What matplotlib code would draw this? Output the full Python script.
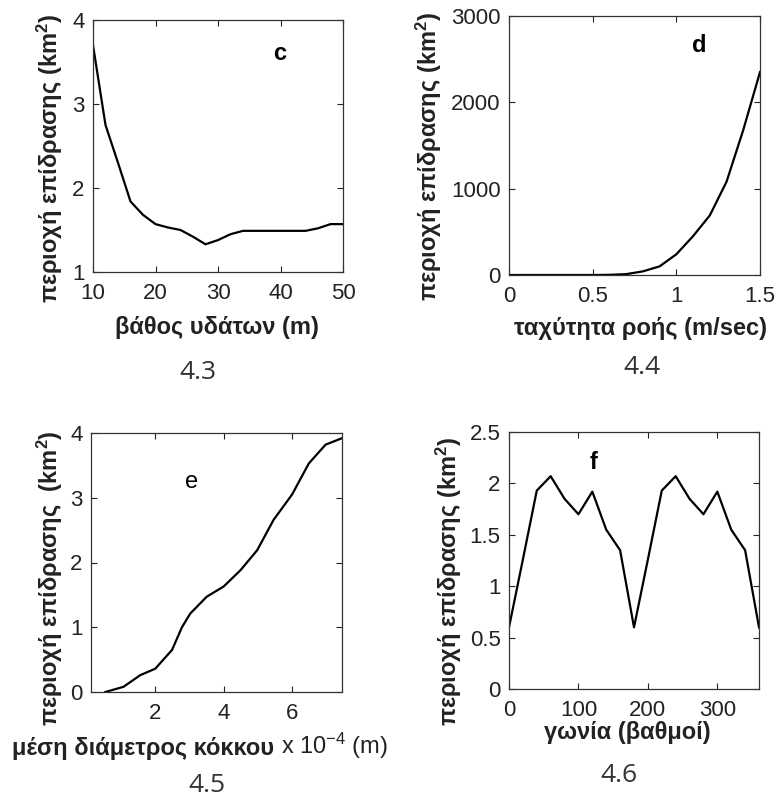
import matplotlib
matplotlib.use("Agg")
import matplotlib.pyplot as plt

plt.rcParams['font.family'] = ['Liberation Sans', 'DejaVu Sans']
plt.rcParams['mathtext.default'] = 'regular'

# panel c: depth vs area
depth = [10, 12, 14, 16, 18, 20, 22, 24, 26, 28, 30, 32, 34, 36, 38, 40, 42, 44, 46, 48, 50]
area_c = [3.7, 2.75, 2.3, 1.84, 1.68, 1.57, 1.53, 1.5, 1.42, 1.33, 1.38, 1.45, 1.49, 1.49, 1.49,
          1.49, 1.49, 1.49, 1.52, 1.57, 1.57]

# panel d: flow speed vs area
speed = [0.0, 0.1, 0.2, 0.3, 0.4, 0.5, 0.6, 0.7, 0.8, 0.9, 1.0, 1.1, 1.2, 1.3, 1.4, 1.5]
area_d = [0, 0, 0, 0, 0, 0, 2, 10, 42, 100, 240, 450, 690, 1080, 1680, 2350]

# panel e: grain diameter (x1e-4 m) vs area
diam = [0.54, 1.07, 1.56, 2.0, 2.49, 2.78, 3.02, 3.5, 4.0, 4.49, 4.98, 5.46, 6.0, 6.49, 6.98, 7.46]
area_e = [0.0, 0.08, 0.26, 0.36, 0.65, 1.0, 1.21, 1.47, 1.63, 1.88, 2.19, 2.66, 3.05, 3.53, 3.82, 3.92]

# panel f: angle vs area
angle = [0, 20, 40, 60, 80, 100, 120, 140, 160, 180, 200, 220, 240, 260, 280, 300, 320, 340, 360]
area_f = [0.6, 1.26, 1.93, 2.07, 1.85, 1.7, 1.92, 1.55, 1.35, 0.6, 1.26, 1.93, 2.07, 1.85, 1.7,
          1.92, 1.55, 1.35, 0.6]

W, H = 778, 805
fig = plt.figure(figsize=(W / 100, H / 100), dpi=100)

LBL = 17
TCK = 16


def make_axes(x0, y0, x1, y1):
    return fig.add_axes([x0 / W, 1 - y1 / H, (x1 - x0) / W, (y1 - y0) / H])


def style(ax):
    ax.tick_params(direction='in', top=True, right=True, length=4, width=0.8,
                   labelsize=TCK, colors='#222222')
    ax.tick_params(axis='x', pad=8)
    ax.tick_params(axis='y', pad=6)
    for s in ax.spines.values():
        s.set_linewidth(0.9)
        s.set_color('#333333')


def label(ax, x, y, s, rot=0, **kw):
    ax.text(x, y, s, transform=ax.transAxes, ha='center', va='center', rotation=rot,
            fontsize=LBL, fontweight='bold', color='#222222', **kw)


ylab = 'περιοχή επίδρασης (km$^2$)'

# c
ax = make_axes(93, 20, 343, 272)
ax.plot(depth, area_c, color='black', lw=1.6)
ax.set_xlim(10, 50)
ax.set_ylim(1, 4)
ax.set_xticks([10, 20, 30, 40, 50])
ax.set_yticks([1, 2, 3, 4])
style(ax)
ax.text(0.748, 0.869, 'c', transform=ax.transAxes, ha='center', va='center', fontsize=17, fontweight='bold')
label(ax, 0.496, -0.222, 'βάθος υδάτων (m)')
label(ax, -0.172, 0.452, ylab, rot=90)

# d
ax = make_axes(509, 16, 760, 275)
ax.plot(speed, area_d, color='black', lw=1.6)
ax.set_xlim(0, 1.5)
ax.set_ylim(0, 3000)
ax.set_xticks([0, 0.5, 1, 1.5])
ax.set_xticklabels(['0', '0.5', '1', '1.5'])
ax.set_yticks([0, 1000, 2000, 3000])
style(ax)
ax.text(0.757, 0.888, 'd', transform=ax.transAxes, ha='center', va='center', fontsize=17, fontweight='bold')
label(ax, 0.522, -0.205, 'ταχύτητα ροής (m/sec)')
label(ax, -0.319, 0.459, ylab, rot=90)

# e
ax = make_axes(91, 433, 342, 692)
ax.plot(diam, area_e, color='black', lw=1.6)
ax.set_xlim(0.12, 7.46)
ax.set_ylim(0, 4)
ax.set_xticks([2, 4, 6])
ax.set_yticks([0, 1, 2, 3, 4])
style(ax)
ax.text(0.402, 0.811, 'e', transform=ax.transAxes, ha='center', va='center', fontsize=17)
fig.text(12 / W, 1 - 748 / H, 'μέση διάμετρος κόκκου', ha='left', va='center',
         fontsize=LBL, fontweight='bold', color='#222222')
fig.text(281 / W, 1 - 746 / H, 'x 10$^{-4}$ (m)', ha='left', va='center',
         fontsize=17, color='#222222')
label(ax, -0.163, 0.438, 'περιοχή επίδρασης  (km$^2$)', rot=90)

# f
ax = make_axes(509, 432, 759, 689)
ax.plot(angle, area_f, color='black', lw=1.6)
ax.set_xlim(0, 360)
ax.set_ylim(0, 2.5)
ax.set_xticks([0, 100, 200, 300])
ax.set_yticks([0, 0.5, 1, 1.5, 2, 2.5])
ax.set_yticklabels(['0', '0.5', '1', '1.5', '2', '2.5'])
style(ax)
ax.text(0.34, 0.883, 'f', transform=ax.transAxes, ha='center', va='center', fontsize=17, fontweight='bold')
label(ax, 0.472, -0.171, 'γωνία (βαθμοί)')
label(ax, -0.24, 0.42, ylab, rot=90)

# figure captions
for cap, px, py in [('4.3', 198, 372), ('4.4', 642, 367), ('4.5', 207, 785), ('4.6', 619, 775)]:
    fig.text(px / W, 1 - py / H, cap, ha='center', va='center', fontsize=19, color='#333333',
             family=['Open Sans', 'DejaVu Sans'])

fig.savefig('out.png', dpi=100)
